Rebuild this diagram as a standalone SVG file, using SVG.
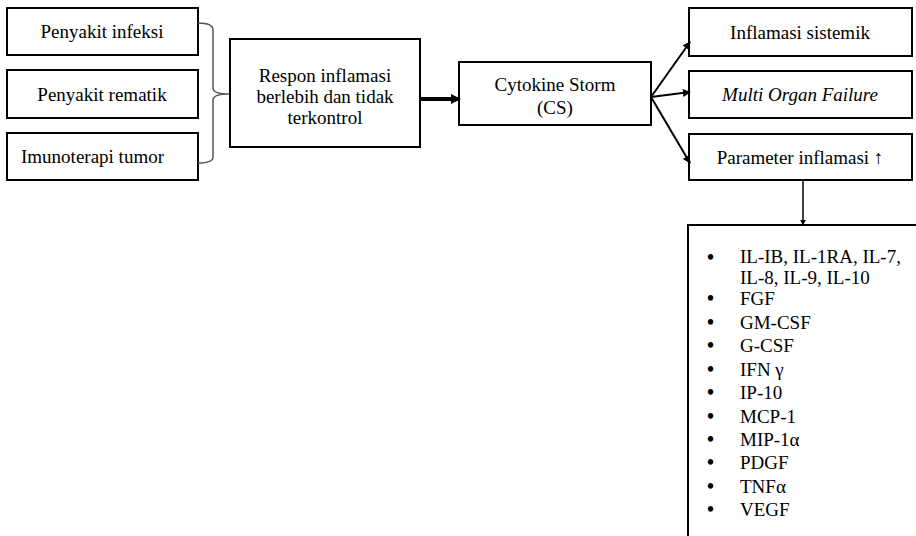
<svg xmlns="http://www.w3.org/2000/svg" width="916" height="536" viewBox="0 0 916 536">
<style>
.box{fill:#fff;stroke:#000;stroke-width:2}
text{font-family:"Liberation Serif","Times New Roman",serif;font-size:19px;fill:#000}
.c{text-anchor:middle}
.b{font-size:20px;font-weight:bold}
.ln{stroke:#000;stroke-width:2;fill:none}
</style>
<defs>
<marker id="ah" viewBox="0 0 10 10" refX="9" refY="5" markerWidth="6" markerHeight="6" markerUnits="userSpaceOnUse" orient="auto"><path d="M0,0 L10,5 L0,10 z" fill="#000"/></marker>
<marker id="ah2" viewBox="0 0 10 10" refX="9" refY="5" markerWidth="10" markerHeight="10" markerUnits="userSpaceOnUse" orient="auto"><path d="M0,0 L10,5 L0,10 z" fill="#000"/></marker>
<marker id="ah3" viewBox="0 0 10 10" refX="9" refY="5" markerWidth="8" markerHeight="8" markerUnits="userSpaceOnUse" orient="auto"><path d="M0,0 L10,5 L0,10 z" fill="#000"/></marker>
</defs>
<g id="n1"><rect class="box" x="7" y="8" width="191" height="47"/><text class="c" x="102" y="38">Penyakit infeksi</text></g>
<g id="n2"><rect class="box" x="7" y="70" width="191" height="48"/><text class="c" x="102" y="101">Penyakit rematik</text></g>
<g id="n3"><rect class="box" x="7" y="133" width="191" height="47"/><text x="21" y="163">Imunoterapi tumor</text></g>
<g id="n4"><rect class="box" x="230" y="39" width="190" height="108"/><text class="c" x="325" y="82">Respon inflamasi</text><text class="c" x="325" y="103">berlebih dan tidak</text><text class="c" x="325" y="124">terkontrol</text></g>
<g id="n5"><rect class="box" x="459" y="62" width="192" height="63"/><text class="c" x="555" y="91">Cytokine Storm</text><text class="c" x="555" y="114">(CS)</text></g>
<g id="n6"><rect class="box" x="689" y="8" width="223" height="48"/><text class="c" x="800" y="39">Inflamasi sistemik</text></g>
<g id="n7"><rect class="box" x="689" y="71" width="223" height="47"/><text class="c" x="800" y="101" font-style="italic">Multi Organ Failure</text></g>
<g id="n8"><rect class="box" x="689" y="134" width="223" height="46"/><text class="c" x="800" y="164">Parameter inflamasi ↑</text></g>
<g id="n9"><rect class="box" x="688" y="225" width="240" height="330"/>
<g>
<text class="b" x="707" y="264">•</text><text x="740" y="263">IL-IB, IL-1RA, IL-7,</text>
<text x="740" y="284">IL-8, IL-9, IL-10</text>
<text class="b" x="707" y="305">•</text><text x="740" y="305">FGF</text>
<text class="b" x="707" y="329">•</text><text x="740" y="329">GM-CSF</text>
<text class="b" x="707" y="352">•</text><text x="740" y="352">G-CSF</text>
<text class="b" x="707" y="376">•</text><text x="740" y="376">IFN γ</text>
<text class="b" x="707" y="399">•</text><text x="740" y="399">IP-10</text>
<text class="b" x="707" y="423">•</text><text x="740" y="423">MCP-1</text>
<text class="b" x="707" y="446">•</text><text x="740" y="446">MIP-1α</text>
<text class="b" x="707" y="469">•</text><text x="740" y="469">PDGF</text>
<text class="b" x="707" y="493">•</text><text x="740" y="493">TNFα</text>
<text class="b" x="707" y="516">•</text><text x="740" y="516">VEGF</text>
</g></g>
<g id="connectors">
<path d="M198,23 Q213,23 213,30 L213,88 Q213,94 229,94 Q213,94 213,100 L213,157 Q213,163 198,163" fill="none" stroke="#555" stroke-width="1.5"/>
<line x1="420" y1="99" x2="460" y2="99" stroke="#000" stroke-width="4" marker-end="url(#ah2)"/>
<line class="ln" x1="651" y1="97" x2="690" y2="42" marker-end="url(#ah3)"/>
<line class="ln" x1="651" y1="97" x2="690" y2="92" marker-end="url(#ah3)"/>
<line class="ln" x1="651" y1="97" x2="690" y2="163" marker-end="url(#ah3)"/>
<line x1="803" y1="180" x2="803" y2="225" stroke="#000" stroke-width="1.5" marker-end="url(#ah)"/>
</g>
</svg>
